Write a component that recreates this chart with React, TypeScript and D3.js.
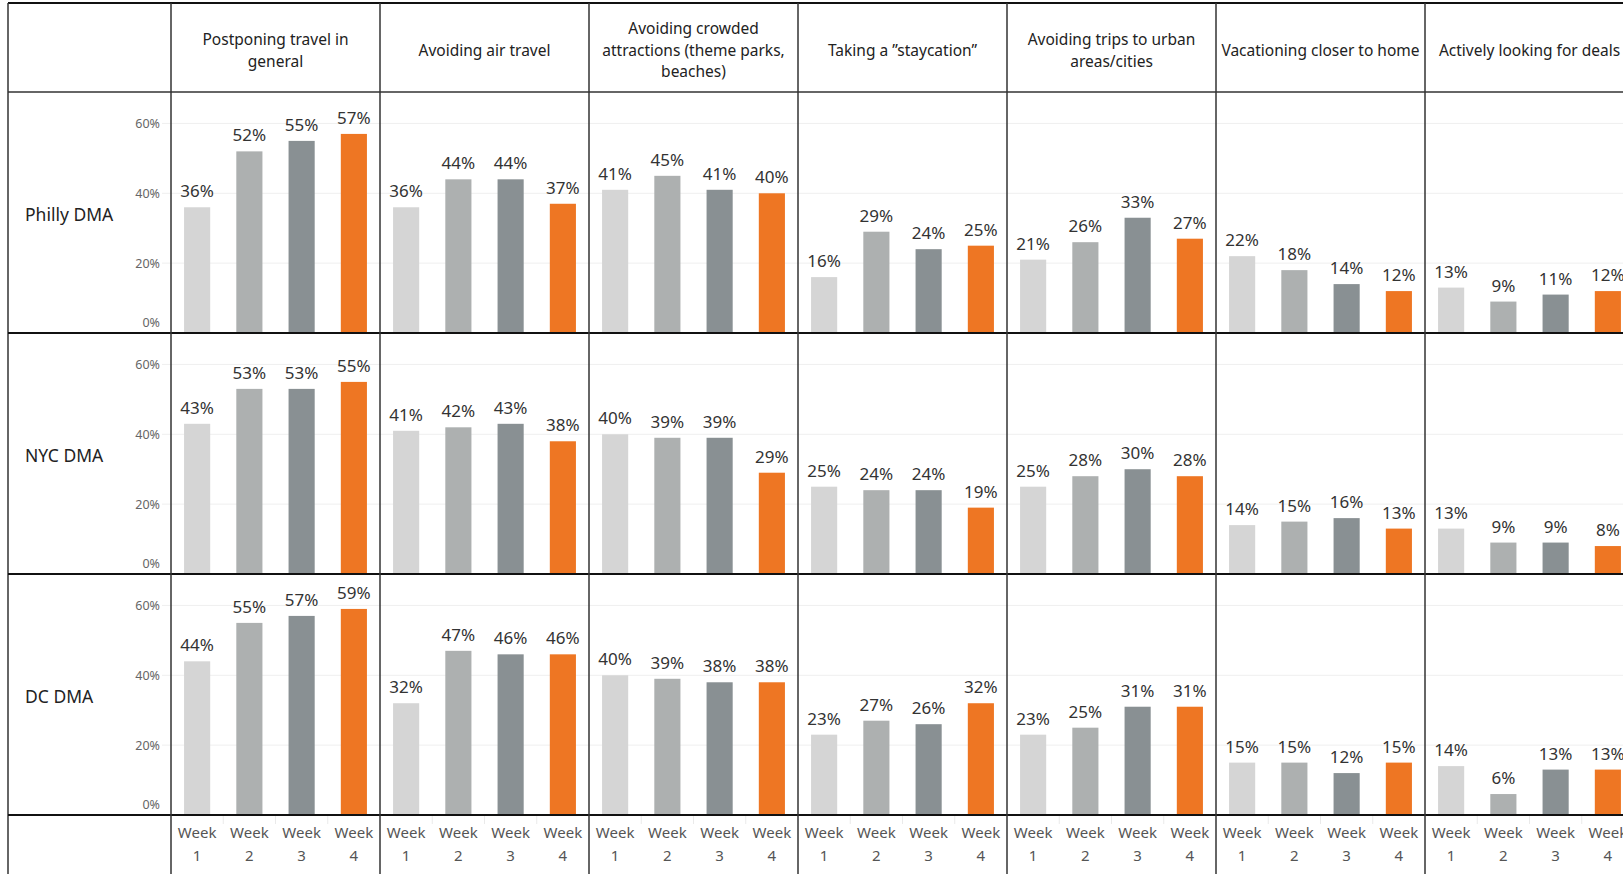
import React from "react";
import * as d3 from "d3";

const categories = [
  "Postponing travel in general",
  "Avoiding air travel",
  "Avoiding crowded attractions (theme parks, beaches)",
  "Taking a \u201dstaycation\u201d",
  "Avoiding trips to urban areas/cities",
  "Vacationing closer to home",
  "Actively looking for deals",
];
const headerLines = [
  ["Postponing travel in", "general"],
  ["Avoiding air travel"],
  ["Avoiding crowded", "attractions (theme parks,", "beaches)"],
  ["Taking a \u201dstaycation\u201d"],
  ["Avoiding trips to urban", "areas/cities"],
  ["Vacationing closer to home"],
  ["Actively looking for deals"],
];
const regions = ["Philly DMA", "NYC DMA", "DC DMA"];
const weeks = ["Week 1", "Week 2", "Week 3", "Week 4"];
const weekColors = ["#d5d5d5", "#adb0b0", "#899093", "#ee7623"];
const yTicks = [0, 20, 40, 60];

// values[region][category] = [week1..week4]
const phillyValues = [
  [36, 52, 55, 57],
  [36, 44, 44, 37],
  [41, 45, 41, 40],
  [16, 29, 24, 25],
  [21, 26, 33, 27],
  [22, 18, 14, 12],
  [13, 9, 11, 12],
];
const nycValues = [
  [43, 53, 53, 55],
  [41, 42, 43, 38],
  [40, 39, 39, 29],
  [25, 24, 24, 19],
  [25, 28, 30, 28],
  [14, 15, 16, 13],
  [13, 9, 9, 8],
];
const dcValues = [
  [44, 55, 57, 59],
  [32, 47, 46, 46],
  [40, 39, 38, 38],
  [23, 27, 26, 32],
  [23, 25, 31, 31],
  [15, 15, 12, 15],
  [14, 6, 13, 13],
];
const values = [phillyValues, nycValues, dcValues];

const W = 1623;
const H = 874;
const left = 8;
const top = 3;
const paneLeft = 171;
const colW = 209;
const headerBottom = 92;
const rowsBottom = 815;
const font = "'Noto Sans', sans-serif";
const textColor = "#333";

export default function App() {
  const x = d3
    .scaleBand<string>()
    .domain(categories)
    .range([paneLeft, paneLeft + colW * categories.length]);
  const row = d3.scaleBand<string>().domain(regions).range([headerBottom, rowsBottom]);
  const inner = d3
    .scaleBand<string>()
    .domain(weeks)
    .range([0, colW])
    .paddingInner(0.5)
    .paddingOuter(0.25);

  return (
    <svg
      width={W}
      height={H}
      style={{ position: "absolute", left: 0, top: 0, background: "#fff" }}
      fontFamily={font}
    >
      {/* gridlines */}
      {regions.map((r) => {
        const y = d3
          .scaleLinear()
          .domain([0, 69])
          .range([row(r)! + row.bandwidth(), row(r)!]);
        return (
          <g key={"g" + r}>
            {yTicks
              .filter((t) => t > 0)
              .map((t) => (
                <line
                  key={t}
                  x1={162}
                  x2={W}
                  y1={y(t)}
                  y2={y(t)}
                  stroke="#efefef"
                  strokeWidth={1}
                />
              ))}
          </g>
        );
      })}

      {/* bars and labels */}
      {regions.map((r, ri) => {
        const y = d3
          .scaleLinear()
          .domain([0, 69])
          .range([row(r)! + row.bandwidth(), row(r)!]);
        return (
          <g key={r}>
            {categories.map((c, ci) =>
              weeks.map((wk, wi) => {
                const v = values[ri][ci][wi];
                const bx = x(c)! + inner(wk)!;
                return (
                  <g key={c + wk}>
                    <rect
                      x={bx}
                      y={y(v)}
                      width={inner.bandwidth()}
                      height={y(0) - y(v)}
                      fill={weekColors[wi]}
                    />
                    <text
                      x={bx + inner.bandwidth() / 2}
                      y={y(v) - 10}
                      textAnchor="middle"
                      fontSize={17}
                      fill={textColor}
                    >
                      {v}%
                    </text>
                  </g>
                );
              })
            )}
            {yTicks.map((t) => (
              <text
                key={t}
                x={160}
                y={t === 0 ? y(t) - 10 : y(t)}
                dy="0.35em"
                textAnchor="end"
                fontSize={12.5}
                fill="#666"
              >
                {t}%
              </text>
            ))}
            <text
              x={25}
              y={row(r)! + row.bandwidth() / 2 + 2}
              dy="0.35em"
              fontSize={17.5}
              fill="#222"
            >
              {r}
            </text>
          </g>
        );
      })}

      {/* headers */}
      {categories.map((c, ci) => {
        const lines = headerLines[ci];
        const lh = 21.5;
        const cy = 50.5;
        return (
          <text
            key={c}
            x={x(c)! + colW / 2}
            textAnchor="middle"
            fontSize={15.5}
            fill="#222"
          >
            {lines.map((l, li) => (
              <tspan
                key={li}
                x={x(c)! + colW / 2}
                y={cy + (li - (lines.length - 1) / 2) * lh}
                dy="0.35em"
              >
                {l}
              </tspan>
            ))}
          </text>
        );
      })}

      {/* week axis labels */}
      {categories.map((c) =>
        weeks.map((wk, wi) => {
          const cx = x(c)! + inner(wk)! + inner.bandwidth() / 2;
          const [w1, w2] = wk.split(" ");
          return (
            <g key={c + wk}>
              {wi > 0 && (
                <line
                  x1={x(c)! + inner(wk)! - inner.step() * 0.25}
                  x2={x(c)! + inner(wk)! - inner.step() * 0.25}
                  y1={rowsBottom + 1}
                  y2={rowsBottom + 9}
                  stroke="#eaeaea"
                />
              )}
              <text x={cx} y={838} textAnchor="middle" fontSize={15} fill="#555">
                {w1}
              </text>
              <text x={cx} y={861} textAnchor="middle" fontSize={15} fill="#555">
                {w2}
              </text>
            </g>
          );
        })
      )}

      {/* frame lines */}
      <line x1={left} x2={W} y1={top} y2={top} stroke="#111" strokeWidth={2} />
      <line x1={left} x2={left} y1={top} y2={H} stroke="#333" strokeWidth={1.5} />
      <line x1={left} x2={W} y1={headerBottom} y2={headerBottom} stroke="#333" strokeWidth={1.5} />
      {regions.map((r) => (
        <line
          key={"rl" + r}
          x1={left}
          x2={W}
          y1={row(r)! + row.bandwidth()}
          y2={row(r)! + row.bandwidth()}
          stroke="#111"
          strokeWidth={2}
        />
      ))}
      {categories.map((c) => (
        <line
          key={"cl" + c}
          x1={x(c)!}
          x2={x(c)!}
          y1={top}
          y2={H}
          stroke="#333"
          strokeWidth={1.5}
        />
      ))}
    </svg>
  );
}
